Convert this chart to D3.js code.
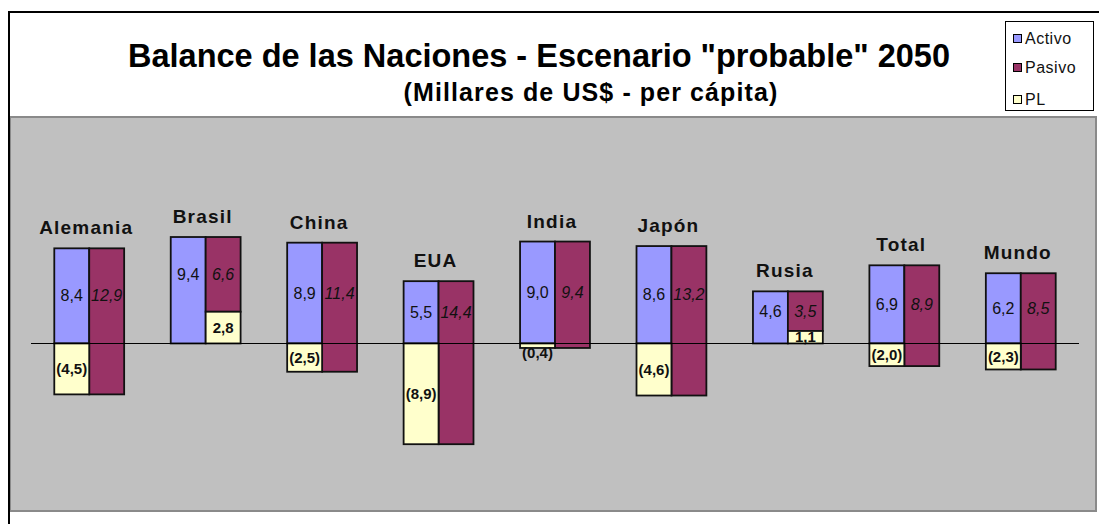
<!DOCTYPE html>
<html>
<head>
<meta charset="utf-8">
<script src="https://cdn.jsdelivr.net/npm/d3@7"></script>
<style>
    body { margin: 0; background: #fff; }
    svg text { font-family: "Liberation Sans", Arial, sans-serif; }
</style>
</head>
<body>
<svg id="chart" width="1099" height="524"></svg>
<script>
// Datos del grafico (miles de US$ per capita)
var paises = ['Alemania', 'Brasil', 'China', 'EUA', 'India', 'Japón', 'Rusia', 'Total', 'Mundo'];
var activo = [8.4, 9.4, 8.9, 5.5, 9.0, 8.6, 4.6, 6.9, 6.2];
var pasivo = [12.9, 6.6, 11.4, 14.4, 9.4, 13.2, 3.5, 8.9, 8.5];
var pl = [-4.5, 2.8, -2.5, -8.9, -0.4, -4.6, 1.1, -2.0, -2.3];
var series = ['Activo', 'Pasivo', 'PL'];
var colores = ['#9999ff', '#993366', '#ffffcc'];

var svg = d3.select('#chart');
var es = d3.formatLocale({decimal: ',', thousands: '.', grouping: [3], currency: ['', '']});
var fmt = es.format('.1f');
var fmtPL = (v) => v < 0 ? '(' + fmt(-v) + ')' : fmt(v);

// Area del grafico
svg.append('rect')
    .attr('x', 10).attr('y', 117).attr('width', 1086).attr('height', 394)
    .attr('fill', '#c0c0c0').attr('stroke', '#8a8a8a').attr('stroke-width', 2);

// Borde exterior
svg.append('path')
    .attr('d', 'M9,524V12H1099')
    .attr('fill', 'none').attr('stroke', '#000').attr('stroke-width', 2);

var x = d3.scaleBand().domain(paises).range([31, 1079]).paddingInner(0.4).paddingOuter(0.2);
var y = d3.scaleLinear().domain([-14.8, 20]).range([511, 117]);
var bw = x.bandwidth() / 2;

var data = paises.map((p, i) => ({pais: p, a: activo[i], p: pasivo[i], pl: pl[i]}));

var g = svg.append('g');
var grupos = g.selectAll('g.pais').data(data).enter().append('g').classed('pais', true)
    .attr('transform', (d) => 'translate(' + x(d.pais) + ',0)');

function barra(sel, x0, v0, v1, color) {
    sel.append('rect')
        .attr('x', x0).attr('width', bw)
        .attr('y', y(Math.max(v0, v1)))
        .attr('height', Math.abs(y(v0) - y(v1)))
        .attr('fill', color).attr('stroke', '#111').attr('stroke-width', 1.8);
}

grupos.each(function(d) {
    var s = d3.select(this);
    // Activo: de 0 a activo
    barra(s, 0, 0, d.a, colores[0]);
    // Pasivo: de PL a PL + pasivo
    barra(s, bw, d.pl, d.pl + d.p, colores[1]);
    // PL: bajo el activo si es negativo, bajo el pasivo si es positivo
    barra(s, d.pl < 0 ? 0 : bw, 0, d.pl, colores[2]);
});

// Linea de cero
g.append('line')
    .attr('x1', 31).attr('x2', 1079)
    .attr('y1', Math.round(y(0)) + 0.5).attr('y2', Math.round(y(0)) + 0.5)
    .attr('stroke', '#000').attr('stroke-width', 1);

// Etiquetas de valores
grupos.each(function(d) {
    var s = d3.select(this);
    var ym = y((Math.max(d.pl, 0) + d.a) / 2);
    s.append('text').attr('x', bw / 2).attr('y', ym).attr('dy', '0.35em')
        .attr('text-anchor', 'middle').attr('font-size', 16).attr('fill', '#111')
        .text(fmt(d.a));
    s.append('text').attr('x', bw * 1.5).attr('y', ym).attr('dy', '0.35em')
        .attr('text-anchor', 'middle').attr('font-size', 16).attr('font-style', 'italic').attr('fill', '#111')
        .text(fmt(d.p));
    var yp = (y(0) + y(d.pl)) / 2;
    if (d.pl < 0) yp = Math.max(yp, y(0) + 9);
    s.append('text').attr('x', d.pl < 0 ? bw / 2 : bw * 1.5).attr('y', yp).attr('dy', '0.35em')
        .attr('text-anchor', 'middle').attr('font-size', 15).attr('font-weight', 'bold').attr('fill', '#111')
        .text(fmtPL(d.pl));
    // Nombre del pais
    s.append('text').attr('x', bw - 3).attr('y', y(Math.max(d.a, d.pl + d.p)) - 14)
        .attr('text-anchor', 'middle').attr('font-size', 19).attr('font-weight', 'bold')
        .attr('letter-spacing', 1.2).attr('fill', '#111')
        .text(d.pais);
});

// Titulos
svg.append('text').attr('x', 539).attr('y', 67)
    .attr('text-anchor', 'middle').attr('font-size', 32.5).attr('font-weight', 'bold')
    .text('Balance de las Naciones - Escenario "probable" 2050');
svg.append('text').attr('x', 591).attr('y', 101)
    .attr('text-anchor', 'middle').attr('font-size', 25).attr('font-weight', 'bold')
    .attr('letter-spacing', 1.1)
    .text('(Millares de US$ - per cápita)');

// Leyenda
var ley = svg.append('g');
ley.append('rect').attr('x', 1005.5).attr('y', 21.5).attr('width', 88).attr('height', 89)
    .attr('fill', '#fff').attr('stroke', '#000').attr('stroke-width', 1);
var posY = [38, 67, 99];
var items = ley.selectAll('g.item').data(series).enter().append('g').classed('item', true)
    .attr('transform', (d, i) => 'translate(1013,' + posY[i] + ')');
items.append('rect').attr('x', 0.5).attr('y', -3.5).attr('width', 8).attr('height', 8)
    .attr('fill', (d, i) => colores[i]).attr('stroke', '#000').attr('stroke-width', 1);
items.append('text').attr('x', 12).attr('y', 0).attr('dy', '0.35em')
    .attr('font-size', 16).attr('letter-spacing', 0.5).attr('fill', '#111')
    .text((d) => d);
</script>
</body>
</html>
